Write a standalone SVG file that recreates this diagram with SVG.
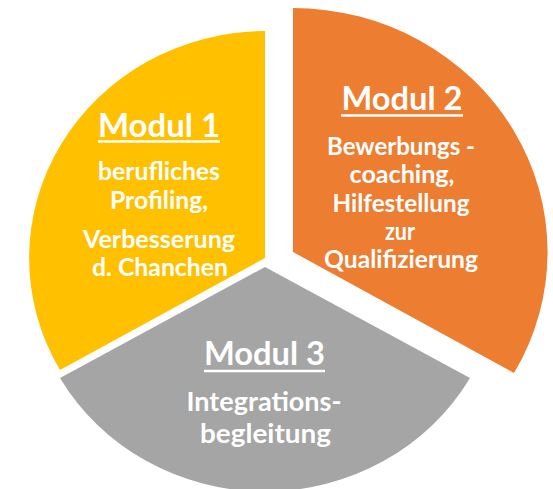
<svg xmlns="http://www.w3.org/2000/svg" width="553" height="489" viewBox="0 0 553 489">
<style>
.t{font-family:Lato,"Open Sans","Liberation Sans",sans-serif;font-weight:700;fill:#fff;text-anchor:middle}
.h{font-size:33px}
.b{font-size:25px}
.g{font-size:26px}
.u{stroke:#fff;stroke-width:2.5}
</style>
<rect width="553" height="489" fill="#fff"/>
<g id="modul1">
<path d="M265,258 L265,31 A237,227 0 0 0 60,370 Z" fill="#FFC000"/>
<text class="t h" x="159" y="137" textLength="122" lengthAdjust="spacingAndGlyphs">Modul 1</text>
<line class="u" x1="98" y1="141.5" x2="220" y2="141.5"/>
<text class="t b" x="159" y="180" textLength="122" lengthAdjust="spacingAndGlyphs">berufliches</text>
<text class="t b" x="159" y="209" textLength="98" lengthAdjust="spacingAndGlyphs">Profiling,</text>
<text class="t b" x="159" y="248" textLength="152" lengthAdjust="spacingAndGlyphs">Verbesserung</text>
<text class="t b" x="160" y="276" textLength="136" lengthAdjust="spacingAndGlyphs">d. Chanchen</text>
</g>
<g id="modul2">
<path d="M293,252 L293,8 A255,244 0 0 1 514,373 Z" fill="#ED7D31"/>
<text class="t h" x="402" y="110" textLength="121" lengthAdjust="spacingAndGlyphs">Modul 2</text>
<line class="u" x1="341" y1="115.5" x2="463" y2="115.5"/>
<text class="t b" x="401" y="155" textLength="148" lengthAdjust="spacingAndGlyphs">Bewerbungs -</text>
<text class="t b" x="402" y="183" textLength="105" lengthAdjust="spacingAndGlyphs">coaching,</text>
<text class="t b" x="401" y="212" textLength="137" lengthAdjust="spacingAndGlyphs">Hilfestellung</text>
<text class="t b" x="400" y="240" textLength="30" lengthAdjust="spacingAndGlyphs">zur</text>
<text class="t b" x="401" y="268" textLength="154" lengthAdjust="spacingAndGlyphs">Qualifizierung</text>
</g>
<g id="modul3">
<path d="M265,267 L470,378 A236,225 0 0 1 60,378 Z" fill="#A5A5A5"/>
<text class="t h" x="264.5" y="365" textLength="121" lengthAdjust="spacingAndGlyphs">Modul 3</text>
<line class="u" x1="204" y1="371" x2="325" y2="371"/>
<text class="t g" x="264" y="411" textLength="155" lengthAdjust="spacingAndGlyphs">Integrations-</text>
<text class="t g" x="265.5" y="443" textLength="131" lengthAdjust="spacingAndGlyphs">begleitung</text>
</g>
<g id="connectors"/>
</svg>
